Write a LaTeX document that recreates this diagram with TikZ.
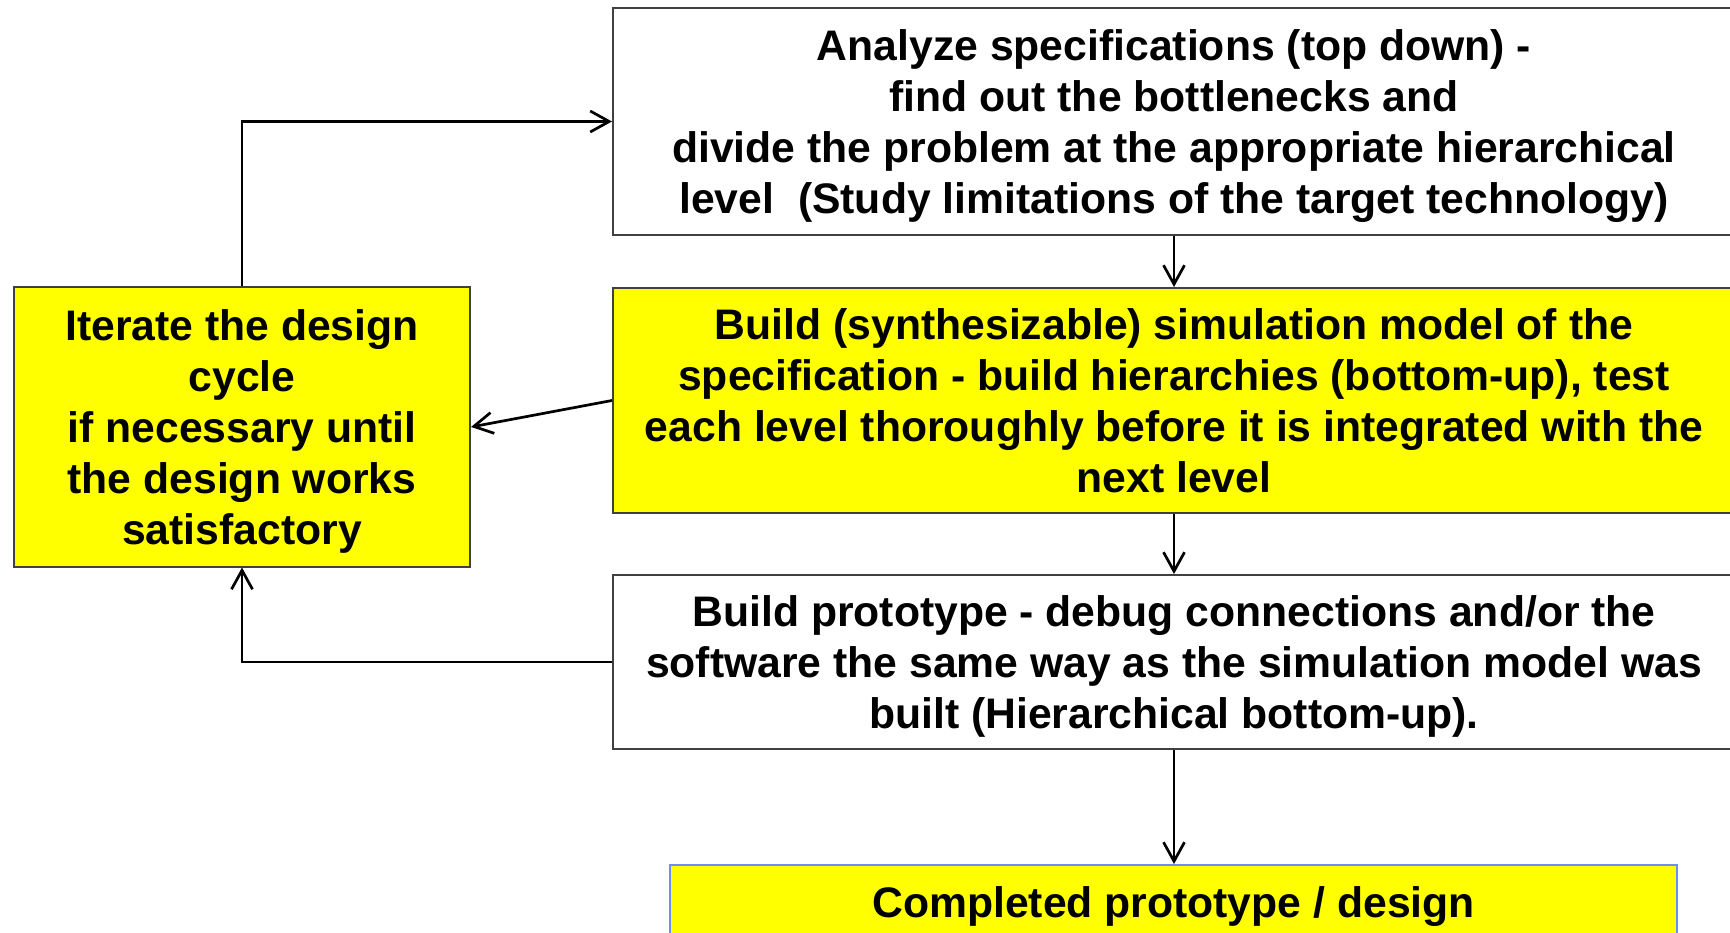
\documentclass[tikz,border=0pt]{standalone}
\usepackage{fontspec}
\setmainfont{Liberation Sans}
\usetikzlibrary{arrows.meta}
\definecolor{boxyellow}{RGB}{255,255,0}
\definecolor{boxgray}{RGB}{64,64,64}
\definecolor{boxblue}{RGB}{108,142,239}
% last line of a box is set without depth, so descenders do not shift the block
\newcommand\nodepth[1]{\raisebox{0pt}[\height][0pt]{#1}}
\tikzset{
  every node/.style={font=\fontsize{42.7}{51}\selectfont\bfseries, align=center, inner sep=0pt},
  plainbox/.style={draw=boxgray, line width=2pt, fill=white, minimum width=1122pt},
  yellowbox/.style={draw=boxgray, line width=2pt, fill=boxyellow},
  arr/.style={draw=black, line width=2.7pt, -{Straight Barb[length=19pt,width=21pt,line width=2.7pt]}},
}
\begin{document}
\begin{tikzpicture}[x=1pt,y=-1pt]
\useasboundingbox (0,0) rectangle (1730,933);

\node[plainbox, minimum height=227pt] (spec) at (1174,121.5)
  {Analyze specifications (top down) -\\find out the bottlenecks and\\divide the problem at the appropriate hierarchical\\\nodepth{level\ \ (Study limitations of the target technology)}};

\node[yellowbox, minimum width=1122pt, minimum height=225pt] (build) at (1174,400.5)
  {Build (synthesizable) simulation model of the\\specification - build hierarchies (bottom-up), test\\each level thoroughly before it is integrated with the\\\nodepth{next level}};

\node[plainbox, minimum height=174pt] (proto) at (1174,662)
  {Build prototype - debug connections and/or the\\software the same way as the simulation model was\\\nodepth{built (Hierarchical bottom-up).}};

\node[yellowbox, draw=boxblue, minimum width=1007pt, minimum height=75pt] (done) at (1173.5,902.5)
  {\nodepth{Completed prototype / design}};

\node[yellowbox, minimum width=456pt, minimum height=279pt] (iter) at (242,427)
  {Iterate the design\\cycle\\if necessary until\\the design works\\\nodepth{satisfactory}};

\draw[arr] (spec.south) -- (build.north);
\draw[arr] (build.south) -- (proto.north);
\draw[arr] (proto.south) -- (proto.south |- done.north);
\draw[arr] (build.west) -- (iter.east);
\draw[arr] (proto.west) -| (iter.south);
\draw[arr] (iter.north) |- (spec.west);
\end{tikzpicture}
\end{document}
